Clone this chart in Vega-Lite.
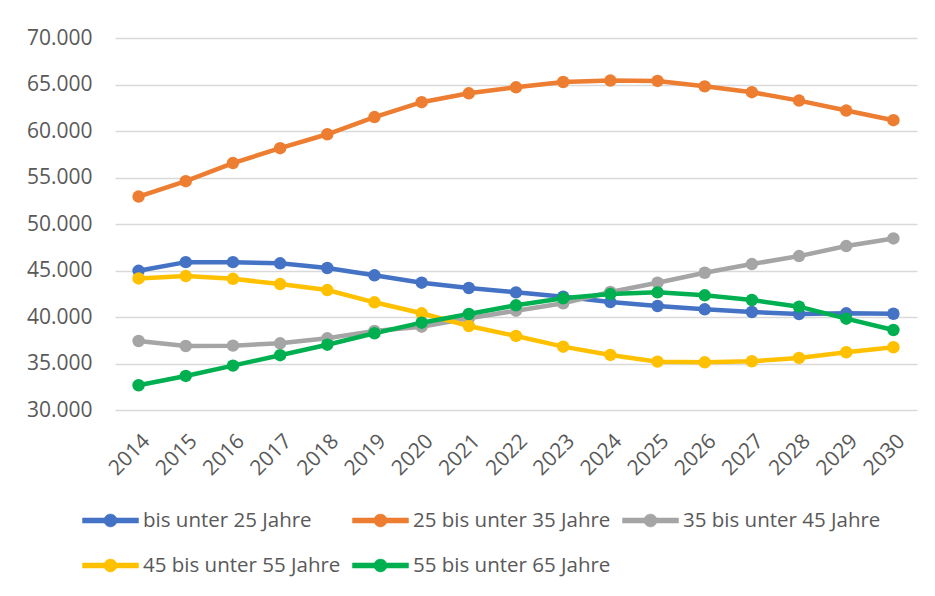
{
  "$schema": "https://vega.github.io/schema/vega-lite/v6.json",
  "width": 802,
  "height": 372,
  "autosize": "none",
  "padding": {"left": 115, "top": 38, "right": 18, "bottom": 186},
  "background": "white",
  "config": {
    "view": {"stroke": null},
    "font": "Open Sans",
    "axis": {"labelFont": "Open Sans", "labelColor": "#595959", "labelFontSize": 21}
  },
  "data": {
    "values": [
      {"Jahr": "2014", "Gruppe": "bis unter 25 Jahre", "Wert": 44970},
      {"Jahr": "2015", "Gruppe": "bis unter 25 Jahre", "Wert": 45900},
      {"Jahr": "2016", "Gruppe": "bis unter 25 Jahre", "Wert": 45900},
      {"Jahr": "2017", "Gruppe": "bis unter 25 Jahre", "Wert": 45770},
      {"Jahr": "2018", "Gruppe": "bis unter 25 Jahre", "Wert": 45270},
      {"Jahr": "2019", "Gruppe": "bis unter 25 Jahre", "Wert": 44480},
      {"Jahr": "2020", "Gruppe": "bis unter 25 Jahre", "Wert": 43690},
      {"Jahr": "2021", "Gruppe": "bis unter 25 Jahre", "Wert": 43120},
      {"Jahr": "2022", "Gruppe": "bis unter 25 Jahre", "Wert": 42650},
      {"Jahr": "2023", "Gruppe": "bis unter 25 Jahre", "Wert": 42180},
      {"Jahr": "2024", "Gruppe": "bis unter 25 Jahre", "Wert": 41610},
      {"Jahr": "2025", "Gruppe": "bis unter 25 Jahre", "Wert": 41180},
      {"Jahr": "2026", "Gruppe": "bis unter 25 Jahre", "Wert": 40830},
      {"Jahr": "2027", "Gruppe": "bis unter 25 Jahre", "Wert": 40540},
      {"Jahr": "2028", "Gruppe": "bis unter 25 Jahre", "Wert": 40320},
      {"Jahr": "2029", "Gruppe": "bis unter 25 Jahre", "Wert": 40400},
      {"Jahr": "2030", "Gruppe": "bis unter 25 Jahre", "Wert": 40350},
      {"Jahr": "2014", "Gruppe": "25 bis unter 35 Jahre", "Wert": 52950},
      {"Jahr": "2015", "Gruppe": "25 bis unter 35 Jahre", "Wert": 54600},
      {"Jahr": "2016", "Gruppe": "25 bis unter 35 Jahre", "Wert": 56550},
      {"Jahr": "2017", "Gruppe": "25 bis unter 35 Jahre", "Wert": 58150},
      {"Jahr": "2018", "Gruppe": "25 bis unter 35 Jahre", "Wert": 59650},
      {"Jahr": "2019", "Gruppe": "25 bis unter 35 Jahre", "Wert": 61500},
      {"Jahr": "2020", "Gruppe": "25 bis unter 35 Jahre", "Wert": 63100},
      {"Jahr": "2021", "Gruppe": "25 bis unter 35 Jahre", "Wert": 64050},
      {"Jahr": "2022", "Gruppe": "25 bis unter 35 Jahre", "Wert": 64700},
      {"Jahr": "2023", "Gruppe": "25 bis unter 35 Jahre", "Wert": 65270},
      {"Jahr": "2024", "Gruppe": "25 bis unter 35 Jahre", "Wert": 65420},
      {"Jahr": "2025", "Gruppe": "25 bis unter 35 Jahre", "Wert": 65380},
      {"Jahr": "2026", "Gruppe": "25 bis unter 35 Jahre", "Wert": 64800},
      {"Jahr": "2027", "Gruppe": "25 bis unter 35 Jahre", "Wert": 64170},
      {"Jahr": "2028", "Gruppe": "25 bis unter 35 Jahre", "Wert": 63270},
      {"Jahr": "2029", "Gruppe": "25 bis unter 35 Jahre", "Wert": 62200},
      {"Jahr": "2030", "Gruppe": "25 bis unter 35 Jahre", "Wert": 61160},
      {"Jahr": "2014", "Gruppe": "35 bis unter 45 Jahre", "Wert": 37420},
      {"Jahr": "2015", "Gruppe": "35 bis unter 45 Jahre", "Wert": 36880},
      {"Jahr": "2016", "Gruppe": "35 bis unter 45 Jahre", "Wert": 36920},
      {"Jahr": "2017", "Gruppe": "35 bis unter 45 Jahre", "Wert": 37170},
      {"Jahr": "2018", "Gruppe": "35 bis unter 45 Jahre", "Wert": 37710},
      {"Jahr": "2019", "Gruppe": "35 bis unter 45 Jahre", "Wert": 38500},
      {"Jahr": "2020", "Gruppe": "35 bis unter 45 Jahre", "Wert": 38960},
      {"Jahr": "2021", "Gruppe": "35 bis unter 45 Jahre", "Wert": 39860},
      {"Jahr": "2022", "Gruppe": "35 bis unter 45 Jahre", "Wert": 40680},
      {"Jahr": "2023", "Gruppe": "35 bis unter 45 Jahre", "Wert": 41470},
      {"Jahr": "2024", "Gruppe": "35 bis unter 45 Jahre", "Wert": 42690},
      {"Jahr": "2025", "Gruppe": "35 bis unter 45 Jahre", "Wert": 43690},
      {"Jahr": "2026", "Gruppe": "35 bis unter 45 Jahre", "Wert": 44760},
      {"Jahr": "2027", "Gruppe": "35 bis unter 45 Jahre", "Wert": 45690},
      {"Jahr": "2028", "Gruppe": "35 bis unter 45 Jahre", "Wert": 46550},
      {"Jahr": "2029", "Gruppe": "35 bis unter 45 Jahre", "Wert": 47630},
      {"Jahr": "2030", "Gruppe": "35 bis unter 45 Jahre", "Wert": 48450},
      {"Jahr": "2014", "Gruppe": "45 bis unter 55 Jahre", "Wert": 44150},
      {"Jahr": "2015", "Gruppe": "45 bis unter 55 Jahre", "Wert": 44400},
      {"Jahr": "2016", "Gruppe": "45 bis unter 55 Jahre", "Wert": 44110},
      {"Jahr": "2017", "Gruppe": "45 bis unter 55 Jahre", "Wert": 43540},
      {"Jahr": "2018", "Gruppe": "45 bis unter 55 Jahre", "Wert": 42900},
      {"Jahr": "2019", "Gruppe": "45 bis unter 55 Jahre", "Wert": 41580},
      {"Jahr": "2020", "Gruppe": "45 bis unter 55 Jahre", "Wert": 40400},
      {"Jahr": "2021", "Gruppe": "45 bis unter 55 Jahre", "Wert": 39030},
      {"Jahr": "2022", "Gruppe": "45 bis unter 55 Jahre", "Wert": 37960},
      {"Jahr": "2023", "Gruppe": "45 bis unter 55 Jahre", "Wert": 36810},
      {"Jahr": "2024", "Gruppe": "45 bis unter 55 Jahre", "Wert": 35920},
      {"Jahr": "2025", "Gruppe": "45 bis unter 55 Jahre", "Wert": 35200},
      {"Jahr": "2026", "Gruppe": "45 bis unter 55 Jahre", "Wert": 35130},
      {"Jahr": "2027", "Gruppe": "45 bis unter 55 Jahre", "Wert": 35240},
      {"Jahr": "2028", "Gruppe": "45 bis unter 55 Jahre", "Wert": 35600},
      {"Jahr": "2029", "Gruppe": "45 bis unter 55 Jahre", "Wert": 36210},
      {"Jahr": "2030", "Gruppe": "45 bis unter 55 Jahre", "Wert": 36750},
      {"Jahr": "2014", "Gruppe": "55 bis unter 65 Jahre", "Wert": 32660},
      {"Jahr": "2015", "Gruppe": "55 bis unter 65 Jahre", "Wert": 33660},
      {"Jahr": "2016", "Gruppe": "55 bis unter 65 Jahre", "Wert": 34770},
      {"Jahr": "2017", "Gruppe": "55 bis unter 65 Jahre", "Wert": 35890},
      {"Jahr": "2018", "Gruppe": "55 bis unter 65 Jahre", "Wert": 37020},
      {"Jahr": "2019", "Gruppe": "55 bis unter 65 Jahre", "Wert": 38250},
      {"Jahr": "2020", "Gruppe": "55 bis unter 65 Jahre", "Wert": 39390},
      {"Jahr": "2021", "Gruppe": "55 bis unter 65 Jahre", "Wert": 40320},
      {"Jahr": "2022", "Gruppe": "55 bis unter 65 Jahre", "Wert": 41260},
      {"Jahr": "2023", "Gruppe": "55 bis unter 65 Jahre", "Wert": 42010},
      {"Jahr": "2024", "Gruppe": "55 bis unter 65 Jahre", "Wert": 42470},
      {"Jahr": "2025", "Gruppe": "55 bis unter 65 Jahre", "Wert": 42650},
      {"Jahr": "2026", "Gruppe": "55 bis unter 65 Jahre", "Wert": 42330},
      {"Jahr": "2027", "Gruppe": "55 bis unter 65 Jahre", "Wert": 41830},
      {"Jahr": "2028", "Gruppe": "55 bis unter 65 Jahre", "Wert": 41110},
      {"Jahr": "2029", "Gruppe": "55 bis unter 65 Jahre", "Wert": 39820},
      {"Jahr": "2030", "Gruppe": "55 bis unter 65 Jahre", "Wert": 38600}
    ]
  },
  "mark": {"type": "line", "strokeWidth": 4.5, "point": {"filled": true, "size": 155, "opacity": 1}},
  "encoding": {
    "x": {
      "field": "Jahr", "type": "ordinal",
      "scale": {"padding": 0.5},
      "axis": {"title": null, "labelAngle": -45, "ticks": false, "domain": false, "grid": false, "labelPadding": 20}
    },
    "y": {
      "field": "Wert", "type": "quantitative",
      "scale": {"domain": [30000, 70000], "nice": false, "zero": false},
      "axis": {
        "title": null, "values": [30000, 35000, 40000, 45000, 50000, 55000, 60000, 65000, 70000],
        "ticks": false, "domain": false, "labelPadding": 23,
        "gridColor": "#d9d9d9", "gridWidth": 1.5,
        "labelExpr": "replace(format(datum.value, ','), ',', '.')"
      }
    },
    "color": {
      "field": "Gruppe", "type": "nominal",
      "scale": {
        "domain": ["bis unter 25 Jahre", "25 bis unter 35 Jahre", "35 bis unter 45 Jahre", "45 bis unter 55 Jahre", "55 bis unter 65 Jahre"],
        "range": ["#4472C4", "#ED7D31", "#A5A5A5", "#FFC000", "#00B050"]
      },
      "legend": {
        "title": null, "orient": "none", "legendX": -33, "legendY": 454,
        "direction": "horizontal", "columns": 3, "columnPadding": 10, "rowPadding": 6,
        "padding": 0,
        "symbolType": "M-1,-0.09L1,-0.09L1,0.09L-1,0.09Z M0.23,0A0.23,0.23 0 1,1 -0.23,0A0.23,0.23 0 1,1 0.23,0Z",
        "symbolSize": 3136, "symbolStrokeWidth": 0.5,
        "labelFont": "Open Sans", "labelFontSize": 20.5, "labelColor": "#595959", "labelLimit": 400, "labelOffset": 4,
        "encode": {"symbols": {"update": {"fill": {"scale": "color", "field": "value"}, "stroke": {"scale": "color", "field": "value"}, "opacity": {"value": 1}}}}
      }
    }
  }
}
